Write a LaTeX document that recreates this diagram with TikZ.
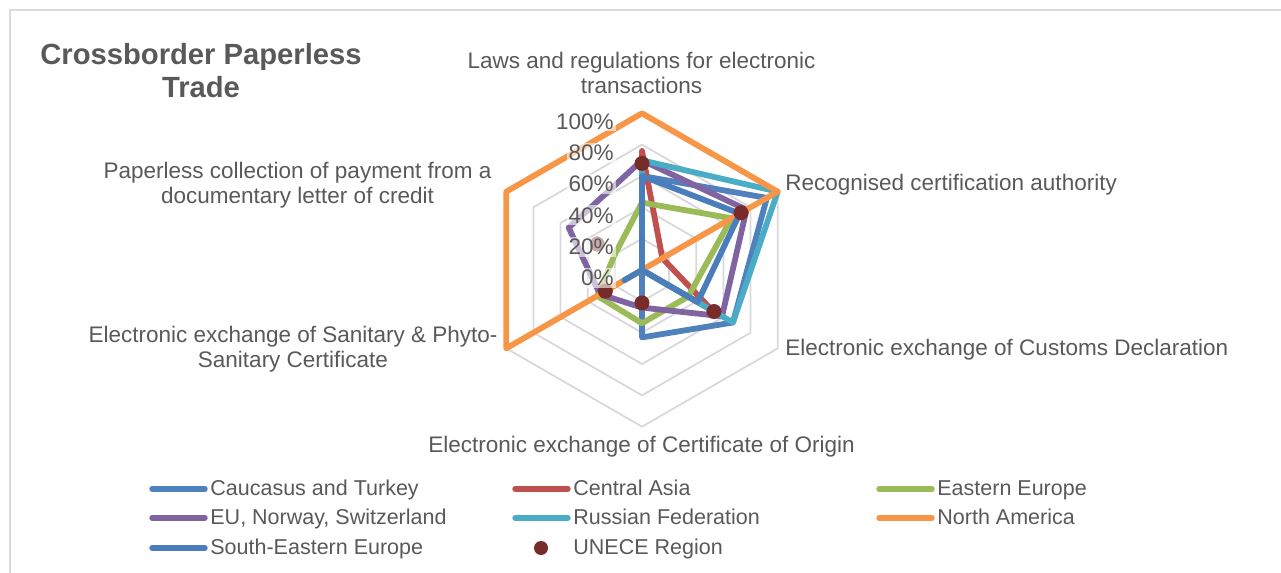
\documentclass[tikz,border=0pt]{standalone}
\usepackage{fontspec}
\setmainfont{Liberation Sans}
\usetikzlibrary{positioning}

\definecolor{cauc}{HTML}{4F81BD}
\definecolor{casia}{HTML}{C0504D}
\definecolor{eeur}{HTML}{9BBB59}
\definecolor{eunor}{HTML}{8064A2}
\definecolor{rusfed}{HTML}{4BACC6}
\definecolor{namer}{HTML}{F79646}
\definecolor{seeur}{HTML}{4A7EBB}
\definecolor{unece}{HTML}{772C2A}
\definecolor{txt}{HTML}{595959}
\definecolor{gridc}{HTML}{D9D9D9}

% one closed line through the six axes (values 0..1)
\newcommand{\radar}[2]{%
  \foreach \v [count=\k from 0] in {#2} \coordinate (r\k) at ({\k*60-90}:{\v*\R});
  \draw[serie,#1] (r0) -- (r1) -- (r2) -- (r3) -- (r4) -- (r5) -- cycle;}

\begin{document}
\begin{tikzpicture}[x=0.5pt,y=-0.5pt,
    every node/.style={text=txt, font=\fontsize{11.25}{12.5}\selectfont},
    grid/.style={draw=gridc, line width=0.9pt},
    serie/.style={line width=2.9pt, line join=round},
    pct/.style={anchor=east, fill=white, fill opacity=0.6, text opacity=1, inner sep=1pt},
    cat/.style={align=center, inner sep=0pt},
    legline/.style={line width=2.7pt, line cap=round},
    legtext/.style={inner sep=0pt, text height=8.4pt, text depth=1.6pt,
      font=\fontsize{10.75}{12}\selectfont, right=2.5pt of #1}]
  \useasboundingbox (0,0) rectangle (1281,573);
  \draw[gridc, line width=0.75pt] (10,573) -- (10,10) -- (1281,10);

  \node[font=\bfseries\fontsize{14.6}{16.5}\selectfont, align=center] (title) at (201,71) {Crossborder Paperless\\Trade};

  \begin{scope}[shift={(642,270)}]
    \def\R{156.7}
    \foreach \r in {0.2,0.4,0.6,0.8,1}
      \draw[grid] (-90:\r*\R) -- (-30:\r*\R) -- (30:\r*\R) -- (90:\r*\R) -- (150:\r*\R) -- (210:\r*\R) -- cycle;
    \radar{cauc}{.60,.92,.67,.43,0,0}     % Caucasus and Turkey
    \radar{casia}{.76,.15,.52,0,0,0}      % Central Asia
    \radar{eeur}{.43,.66,.34,.34,.33,.20} % Eastern Europe
    \radar{eunor}{.70,.77,.59,.24,.31,.54}% EU, Norway, Switzerland
    \radar{rusfed}{.70,1,.67,0,0,0}       % Russian Federation
    \radar{namer}{1,1,0,0,1,1}            % North America
    \radar{seeur}{.60,.72,.41,0,.13,0}    % South-Eastern Europe
    \foreach \v [count=\k from 0] in {.68,.73,.53,.21,.27,.33}
      \fill[unece] ({\k*60-90}:{\v*\R}) circle (7.5); % UNECE Region
    \foreach \p in {0,20,...,100}
      \node[pct] (v\p) at (-26,{8-\p*\R/100}) {\p\%};
  \end{scope}

  % axis names
  \node[cat] (laws) at (641.5,72.5) {Laws and regulations for electronic\\transactions};
  \node[cat, anchor=west] (cert) at (785,185) {Recognised certification authority};
  \node[cat, anchor=west] (customs) at (785,350) {Electronic exchange of Customs Declaration};
  \node[cat] (origin) at (641.5,447) {Electronic exchange of Certificate of Origin};
  \node[cat] (sps) at (293,349.5) {Electronic exchange of Sanitary \& Phyto-\\Sanitary Certificate};
  \node[cat] (lc) at (297.5,185.5) {Paperless collection of payment from a\\documentary letter of credit};

  % legend
  \draw[legline, cauc] (152,489) -- (205,489) coordinate (kcauc);
  \node[legtext=kcauc] (tcauc) {Caucasus and Turkey};
  \draw[legline, casia] (515,489) -- (568,489) coordinate (kcasia);
  \node[legtext=kcasia] (tcasia) {Central Asia};
  \draw[legline, eeur] (879,489) -- (932,489) coordinate (keeur);
  \node[legtext=keeur] (teeur) {Eastern Europe};
  \draw[legline, eunor] (152,518) -- (205,518) coordinate (keunor);
  \node[legtext=keunor] (teunor) {EU, Norway, Switzerland};
  \draw[legline, rusfed] (515,518) -- (568,518) coordinate (krusfed);
  \node[legtext=krusfed] (trusfed) {Russian Federation};
  \draw[legline, namer] (879,518) -- (932,518) coordinate (knamer);
  \node[legtext=knamer] (tnamer) {North America};
  \draw[legline, seeur] (152,548) -- (205,548) coordinate (kseeur);
  \node[legtext=kseeur] (tseeur) {South-Eastern Europe};
  \fill[unece] (541,548) circle (7);
  \coordinate (kunece) at (568,548);
  \node[legtext=kunece] (tunece) {UNECE Region};
\end{tikzpicture}
\end{document}
